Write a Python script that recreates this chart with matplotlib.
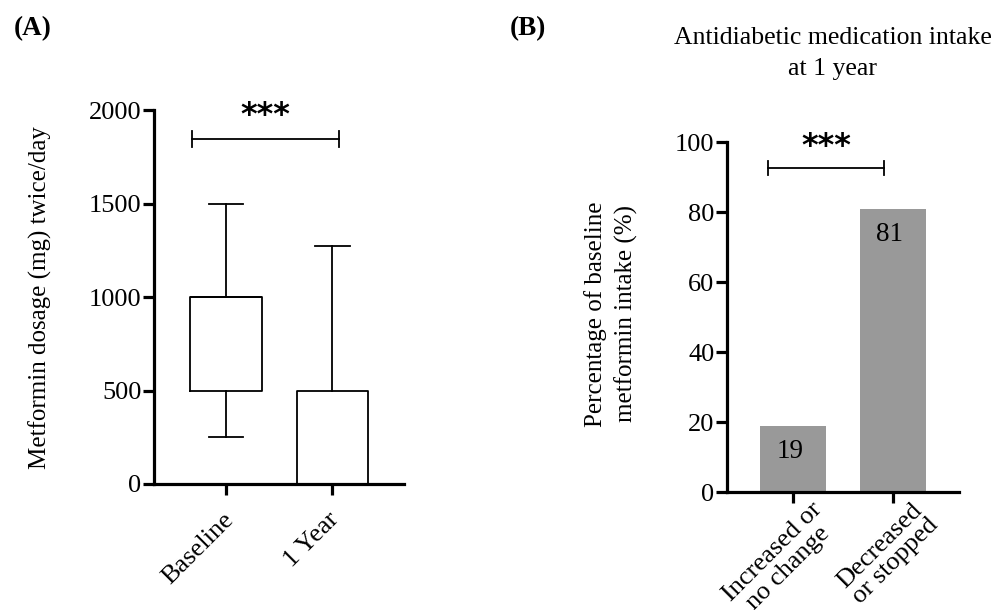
import matplotlib
matplotlib.use("Agg")
import matplotlib.pyplot as plt
from matplotlib.transforms import ScaledTranslation

plt.rcParams['font.family'] = ['Liberation Serif', 'DejaVu Serif']

# panel A: metformin dosage box plots
groups_a = ["Baseline", "1 Year"]
whisker_low = [250, 0]
q1 = [500, 0]
median = [1000, 0]
q3 = [1000, 500]
whisker_high = [1500, 1275]
sig_a = [0, 1, 1846]

# panel B: percentage bars
groups_b = ["Increased or\nno change", "Decreased\nor stopped"]
percent = [19, 81]
sig_b = [0, 1, 92.5]

fs_tick = 19
lw_ax = 2.3

fig = plt.figure(figsize=(9.91, 6.10), dpi=100)


def style_axis(ax):
    for s in ['top', 'right']:
        ax.spines[s].set_visible(False)
    for s in ['left', 'bottom']:
        ax.spines[s].set_linewidth(lw_ax)
    ax.tick_params(axis='both', width=lw_ax, length=8, labelsize=fs_tick, direction='out')
    ax.tick_params(axis='y', pad=1)
    ax.tick_params(axis='x', pad=4)


def shift_labels(ax, dx, dy):
    off = ScaledTranslation(dx / 100, dy / 100, fig.dpi_scale_trans)
    for lbl in ax.get_xticklabels():
        lbl.set_transform(lbl.get_transform() + off)


def sig_bracket(ax, x0, x1, y, h, text_y):
    ax.plot([x0, x1], [y, y], color='black', lw=1.3, clip_on=False)
    ax.plot([x0, x0], [y - h, y + h], color='black', lw=1.3, clip_on=False)
    ax.plot([x1, x1], [y - h, y + h], color='black', lw=1.3, clip_on=False)
    ax.text((x0 + x1) / 2, text_y, "***", ha='center', va='center',
            fontsize=23, fontweight='bold', family='DejaVu Sans')


# ---- panel A
axA = fig.add_axes([0.1554, 0.2066, 0.2523, 0.6125])
stats = []
for i in range(len(groups_a)):
    stats.append(dict(med=median[i], q1=q1[i], q3=q3[i],
                      whislo=whisker_low[i], whishi=whisker_high[i], fliers=[]))
axA.bxp(stats, positions=[0, 1], widths=0.67, showfliers=False,
        boxprops=dict(color='black', lw=1.3),
        whiskerprops=dict(color='black', lw=1.3),
        capprops=dict(color='black', lw=1.3),
        medianprops=dict(color='black', lw=1.3),
        capwidths=0.33)
axA.set_xlim(-0.679, 1.679)
axA.set_ylim(0, 2000)
axA.set_yticks([0, 500, 1000, 1500, 2000])
axA.set_xticks([0, 1])
axA.set_xticklabels(groups_a, rotation=45, ha='right', rotation_mode='anchor', fontsize=17.5)
style_axis(axA)
shift_labels(axA, -4, -8)
sig_bracket(axA, sig_a[0] - 0.318, sig_a[1] + 0.064, sig_a[2], 43, 1973)
for child in axA.get_children():
    try:
        child.set_clip_on(False)
    except Exception:
        pass
fig.text(40 / 991, 1 - 298 / 610, "Metformin dosage (mg) twice/day", rotation=90,
         ha='center', va='center', fontsize=18)

# ---- panel B
axB = fig.add_axes([0.7336, 0.1934, 0.2341, 0.5738])
bars = axB.bar([0, 1], percent, width=0.66, color='#999999', edgecolor='none')
for i, v in enumerate(percent):
    axB.text(i - 0.03, v - 7.5, str(v), ha='center', va='center', fontsize=19.5)
axB.set_xlim(-0.66, 1.66)
axB.set_ylim(0, 100)
axB.set_yticks([0, 20, 40, 60, 80, 100])
axB.set_xticks([0, 1])
axB.set_xticklabels(groups_b, rotation=45, ha='right', rotation_mode='anchor',
                    linespacing=1.0, fontsize=14.5, multialignment='center')
style_axis(axB)
shift_labels(axB, 18, 10)
sig_bracket(axB, sig_b[0] - 0.25, sig_b[1] - 0.09, sig_b[2], 2, 98.6)
for child in axB.get_children():
    try:
        child.set_clip_on(False)
    except Exception:
        pass
fig.text(611 / 991, 1 - 314 / 610, "Percentage of baseline\nmetformin intake (%)",
         rotation=90, ha='center', va='center', fontsize=18, linespacing=1.45)

fig.text(833 / 991, 1 - 53.5 / 610, "Antidiabetic medication intake\nat 1 year", ha='center',
         va='center', fontsize=18.5, linespacing=1.5)
fig.text(0.014, 1 - 29 / 610, "(A)", fontsize=19.5, fontweight='bold', va='center')
fig.text(0.514, 1 - 29 / 610, "(B)", fontsize=19.5, fontweight='bold', va='center')

fig.savefig("out.png", dpi=100)
